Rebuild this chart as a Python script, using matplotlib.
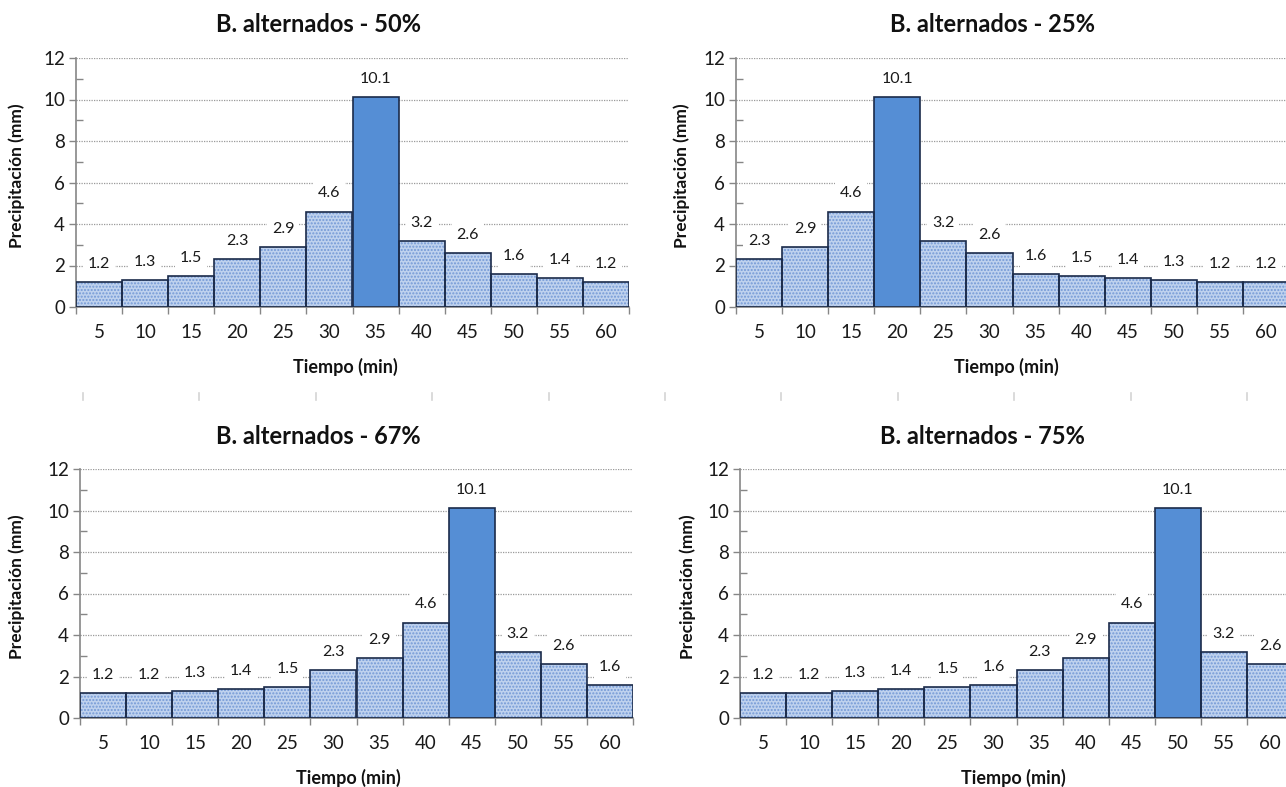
import numpy as np
import matplotlib
matplotlib.use("Agg")
import matplotlib.pyplot as plt
from matplotlib.lines import Line2D

plt.rcParams['font.family'] = ['Lato', 'DejaVu Sans']
plt.rcParams['hatch.linewidth'] = 1.0

# --- data -------------------------------------------------------------
tiempo = [5, 10, 15, 20, 25, 30, 35, 40, 45, 50, 55, 60]

precip_50 = [1.2, 1.3, 1.5, 2.3, 2.9, 4.6, 10.1, 3.2, 2.6, 1.6, 1.4, 1.2]
precip_25 = [2.3, 2.9, 4.6, 10.1, 3.2, 2.6, 1.6, 1.5, 1.4, 1.3, 1.2, 1.2]
precip_67 = [1.2, 1.2, 1.3, 1.4, 1.5, 2.3, 2.9, 4.6, 10.1, 3.2, 2.6, 1.6]
precip_75 = [1.2, 1.2, 1.3, 1.4, 1.5, 1.6, 2.3, 2.9, 4.6, 10.1, 3.2, 2.6]

titles = ["B. alternados - 50%", "B. alternados - 25%",
          "B. alternados - 67%", "B. alternados - 75%"]
series = [precip_50, precip_25, precip_67, precip_75]

xlabel = "Tiempo (min)"
ylabel = "Precipitación (mm)"

# --- styling ----------------------------------------------------------
W, H = 1286, 787
fig = plt.figure(figsize=(W / 100, H / 100), dpi=100)

AX_GRAY = "#868686"
GRID_GRAY = "#9A9A9A"
EDGE = "#1B2B4A"
PEAK = "#558ED5"
LIGHT = "#BFD2EE"
DOTS = "#7499D6"

# pixel layout of each panel: (plot left, plot top, title centre x, title y,
# y-label x, x-label centre x)
layout = [
    (76, 58, 318, 25, 17, 345),
    (736, 58, 993, 25, 682, 1006),
    (80, 469, 318, 437, 17, 348),
    (740, 469, 982, 437, 688, 1013),
]
PW, PH = 553, 249


def fx(x):
    return x / W


def fy(y):
    return 1 - y / H


for (left, top, tx, ty, ylx, xlx), title, vals in zip(layout, titles, series):
    ax = fig.add_axes([fx(left), fy(top + PH), PW / W, PH / H])
    x = np.arange(len(tiempo))
    vals = np.asarray(vals)
    peak = int(np.argmax(vals))
    face = [PEAK if i == peak else LIGHT for i in range(len(vals))]

    # textured fill
    bars = ax.bar(x, vals, width=1.0, color=face, edgecolor=DOTS,
                  linewidth=0, zorder=2)
    for i, b in enumerate(bars):
        if i != peak:
            b.set_hatch(".....")
    # outlines
    ax.bar(x, vals, width=1.0, fill=False, edgecolor=EDGE, linewidth=1.2,
           zorder=3)

    for i, v in enumerate(vals):
        ax.annotate(f"{v:.1f}", (i, v), xytext=(0, 13),
                    textcoords="offset points", ha="center", va="center",
                    fontsize=11.5, color="#1a1a1a", zorder=4,
                    bbox=dict(boxstyle="square,pad=0.3", fc="white",
                              ec="none"))

    ax.set_xlim(-0.5, len(tiempo) - 0.5)
    ax.set_ylim(0, 12)
    ax.set_yticks(np.arange(0, 13, 2))
    ax.set_yticks(np.arange(1, 12, 2), minor=True)
    ax.set_xticks(x)
    ax.set_xticklabels([str(t) for t in tiempo])
    ax.set_xticks(np.arange(-0.5, len(tiempo), 1), minor=True)

    ax.tick_params(axis="x", which="major", length=0, pad=12,
                   labelsize=13.5, labelcolor="#1a1a1a")
    ax.tick_params(axis="x", which="minor", length=5, direction="out",
                   color=AX_GRAY, width=1)
    ax.tick_params(axis="y", which="major", length=5, direction="out",
                   color=AX_GRAY, width=1, pad=3, labelsize=13.5,
                   labelcolor="#1a1a1a")
    ax.tick_params(axis="y", which="minor", length=5, direction="in",
                   color=AX_GRAY, width=1)

    for s in ("top", "right"):
        ax.spines[s].set_visible(False)
    for s in ("left", "bottom"):
        ax.spines[s].set_color(AX_GRAY)
        ax.spines[s].set_linewidth(1.2)

    for gy in range(2, 13, 2):
        ax.axhline(gy, color=GRID_GRAY, linewidth=0.9,
                   linestyle=(0, (1, 1)), zorder=0)

    fig.text(fx(tx), fy(ty), title, ha="center", va="center",
             fontsize=17, fontweight="bold", color="#111111")
    fig.text(fx(ylx), fy(top + PH / 2 - 7), ylabel, rotation=90,
             ha="center", va="center", fontsize=12.5, fontweight="bold",
             color="#111111")
    fig.text(fx(xlx), fy(top + 309), xlabel, ha="center", va="center",
             fontsize=13, fontweight="bold", color="#111111")

# faint separator ticks between the two rows
for k in range(11):
    xp = 83 + 116.4 * k
    fig.add_artist(Line2D([fx(xp), fx(xp)], [fy(393), fy(400)],
                          color="#D4D4D4", linewidth=1.2))

fig.savefig("out.png", dpi=100, facecolor="white")
